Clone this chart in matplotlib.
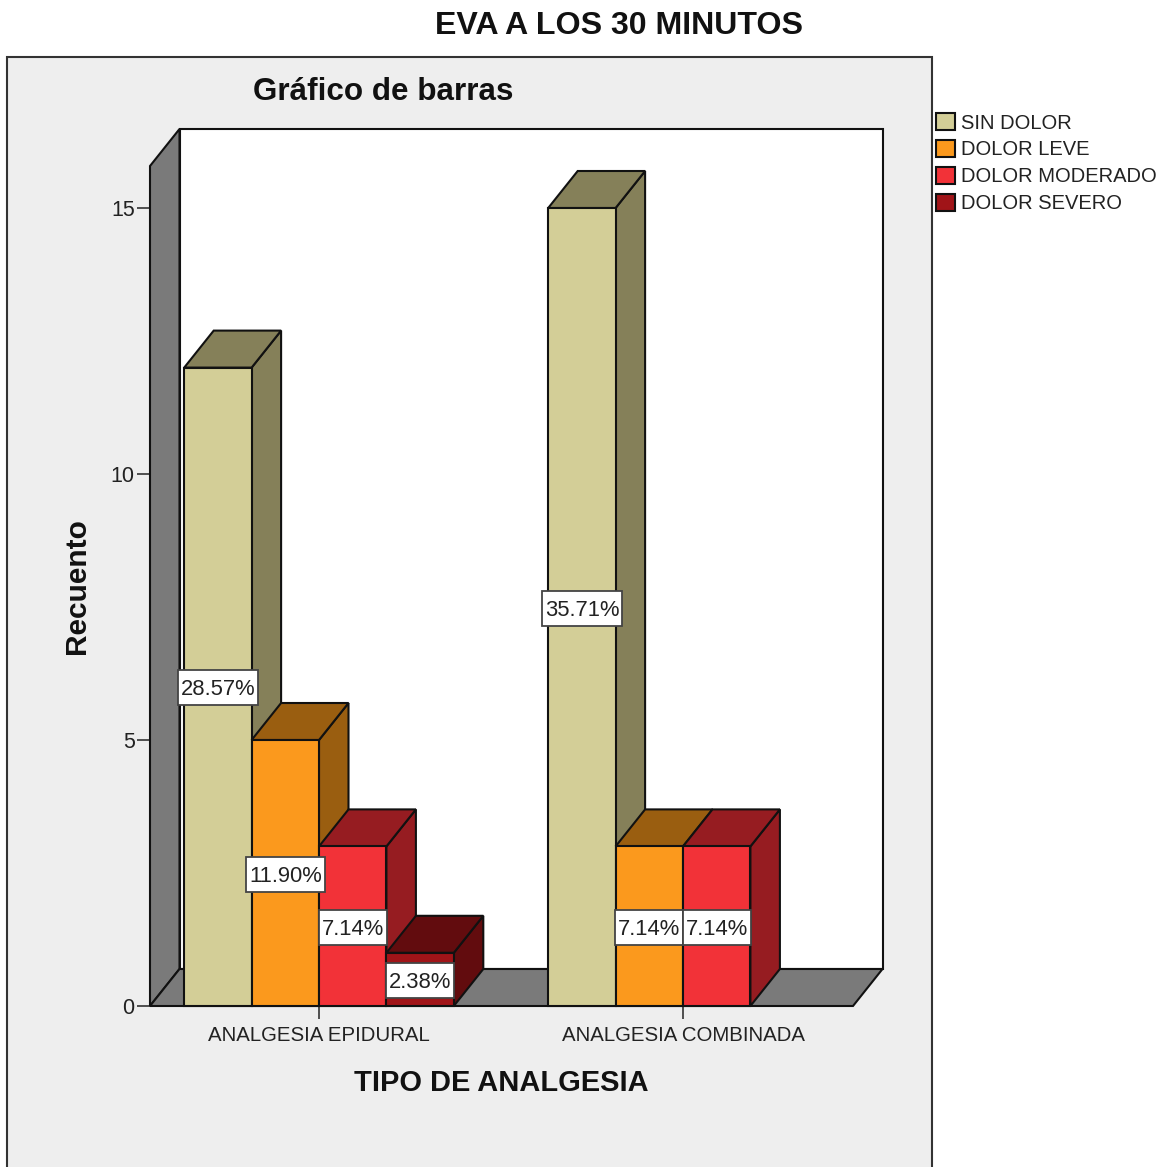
import matplotlib
matplotlib.use('Agg')
import matplotlib.pyplot as plt
from matplotlib.patches import Polygon, Rectangle, Patch
from matplotlib.path import Path

plt.rcParams['font.family'] = ['Liberation Sans', 'DejaVu Sans']

grupos = ['ANALGESIA EPIDURAL', 'ANALGESIA COMBINADA']
categorias = ['SIN DOLOR', 'DOLOR LEVE', 'DOLOR MODERADO', 'DOLOR SEVERO']
epidural = [12, 5, 3, 1]
combinada = [15, 3, 3, 0]
etiq_epidural = ['28.57%', '11.90%', '7.14%', '2.38%']
etiq_combinada = ['35.71%', '7.14%', '7.14%', '']
y_ticks = [0, 5, 10, 15]

cor_frente = ['#d3ce97', '#fb991d', '#f23238', '#a01418']
cor_lado = ['#858059', '#9a5e10', '#961c21', '#620c0e']
cor_parede = '#7a7a7a'
cor_painel = '#eeeeee'
cor_linha = '#111111'

W, H = 1162, 1167
px_barra = 67.4
px_valor = 53.2
dx = 29.5 / px_barra
dy = 37 / px_valor

fig = plt.figure(figsize=(W / 100, H / 100), dpi=100)
fig.patch.set_facecolor('white')
fig.add_artist(Rectangle((7 / W, -0.01), 925 / W, 1 - 57 / H + 0.01, transform=fig.transFigure,
                         facecolor=cor_painel, edgecolor='#333333', linewidth=1.5, zorder=-1))

ax = fig.add_axes([150 / W, 1 - 1006 / H, 703 / W, 840 / H])
ax.patch.set_visible(False)
x_max = 703 / px_barra
y_max = 840 / px_valor
ax.set_xlim(0, x_max)
ax.set_ylim(0, y_max)
for lado in ax.spines.values():
    lado.set_visible(False)


def poligono(pontos, cor, z=2):
    ax.add_patch(Polygon(pontos, closed=True, facecolor=cor, edgecolor=cor_linha,
                         linewidth=1.5, joinstyle='miter', clip_on=False, zorder=z))


# caixa das etiquetas: mais folga na vertical do que na horizontal
def caixa_etiqueta(x0, y0, w, h, mutation_size):
    px = 0.13 * mutation_size
    py = 0.32 * mutation_size
    sobe = 0.09 * mutation_size
    a, b = x0 - px, x0 + w + px
    c, d = y0 - py + sobe, y0 + h + py + sobe
    return Path([(a, c), (b, c), (b, d), (a, d), (a, c)], closed=True)


# fundo 3D: parede traseira, parede lateral e piso
poligono([(dx, dy), (x_max + dx, dy), (x_max + dx, y_max + dy), (dx, y_max + dy)], 'white')
poligono([(0, 0), (dx, dy), (dx, y_max + dy), (0, y_max)], cor_parede)
poligono([(0, 0), (x_max, 0), (x_max + dx, dy), (dx, dy)], cor_parede)


def barra3d(x0, valor, i):
    x1 = x0 + 1
    poligono([(x1, 0), (x1 + dx, dy), (x1 + dx, valor + dy), (x1, valor)], cor_lado[i], 3)
    poligono([(x0, valor), (x1, valor), (x1 + dx, valor + dy), (x0 + dx, valor + dy)], cor_lado[i], 3)
    poligono([(x0, 0), (x1, 0), (x1, valor), (x0, valor)], cor_frente[i], 3)


centros = [(319 - 150) / px_barra, (683 - 150) / px_barra]
series = [epidural, combinada]
etiquetas = [etiq_epidural, etiq_combinada]

for centro, valores, textos in zip(centros, series, etiquetas):
    for i, valor in enumerate(valores):
        if valor == 0:
            continue
        x0 = centro - 2 + i
        barra3d(x0, valor, i)
        ax.annotate(textos[i], (x0 + 0.5, valor / 2), xytext=(0, -3), textcoords='offset pixels',
                    ha='center', va='center', fontsize=15.8, color='#222222', zorder=6,
                    bbox=dict(boxstyle=caixa_etiqueta, facecolor='white', edgecolor='#444444', linewidth=1.3))

ax.set_yticks(y_ticks)
ax.set_xticks(centros)
ax.set_xticklabels(grupos)
ax.tick_params(axis='both', length=9.5, width=1.2, color='#333333', labelcolor='#222222')
ax.tick_params(axis='x', labelsize=14.7, pad=5)
ax.tick_params(axis='y', labelsize=15.5, pad=1.5)
ax.set_xlabel('TIPO DE ANALGESIA', fontsize=20.9, fontweight='bold', color='#111111', labelpad=17)
ax.set_ylabel('Recuento', fontsize=21.5, fontweight='bold', color='#111111', labelpad=14)

fig.text(619 / W, 1 - 26 / H, 'EVA A LOS 30 MINUTOS', ha='center', va='center',
         fontsize=23.1, fontweight='bold', color='#111111')
fig.text(383 / W, 1 - 92 / H, 'Gráfico de barras', ha='center', va='center',
         fontsize=22.6, fontweight='bold', color='#111111')

marcas = [Patch(facecolor=c, edgecolor=cor_linha, linewidth=1.5) for c in cor_frente]
fig.legend(marcas, categorias, loc='upper left', bbox_to_anchor=(932 / W, 1 - 109 / H),
           frameon=False, fontsize=14.5, handlelength=0.93, handleheight=0.93, handletextpad=0.3,
           labelspacing=0.37, borderpad=0.2, borderaxespad=0, labelcolor='#222222')

fig.savefig('out.png', dpi=100)
